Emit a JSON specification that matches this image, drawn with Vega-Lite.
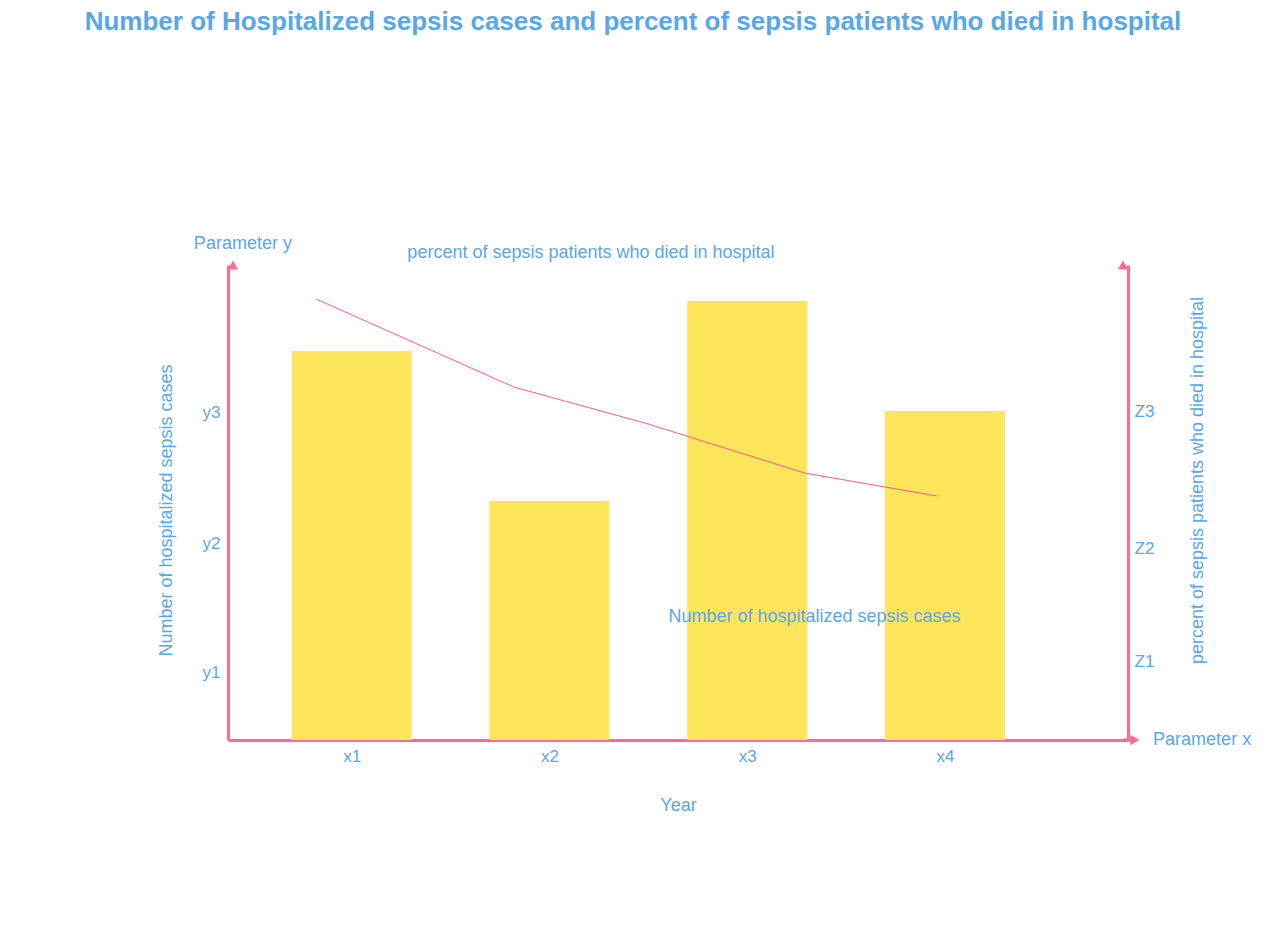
{
  "$schema": "https://vega.github.io/schema/vega-lite/v6.json",
  "autosize": "none",
  "width": 900,
  "height": 475,
  "padding": {"left": 228, "top": 265, "right": 137, "bottom": 206},
  "config": {
    "font": "Liberation Sans",
    "view": {"stroke": null},
    "axis": {"grid": false, "ticks": false, "labelColor": "#5AA7E6", "titleColor": "#5AA7E6", "labelFontSize": 17, "titleFontSize": 18, "titleFontWeight": "normal", "domainColor": "#FF6B93", "domainWidth": 3}
  },
  "title": {"text": "Number of Hospitalized sepsis cases and percent of sepsis patients who died in hospital", "color": "#5AA7E6", "fontSize": 26, "fontWeight": "bold", "anchor": "middle", "offset": 200, "dx": -45},
  "datasets": {
    "bars": [
      {"year": 1, "cases": 389},
      {"year": 2, "cases": 239},
      {"year": 3, "cases": 439},
      {"year": 4, "cases": 329}
    ],
    "line": [
      {"year": 0.82, "pct": 441},
      {"year": 1.82, "pct": 353},
      {"year": 2.5, "pct": 316},
      {"year": 3.29, "pct": 267},
      {"year": 3.96, "pct": 244}
    ],
    "notes": [
      {"year": 0.45, "v": 496, "label": "Parameter y"},
      {"year": 2.21, "v": 487, "label": "percent of sepsis patients who died in hospital"},
      {"year": 3.34, "v": 123, "label": "Number of  hospitalized sepsis cases"},
      {"year": 5.3, "v": 0, "label": "Parameter x"}
    ]
  },
  "layer": [
    {
      "data": {"name": "bars"},
      "mark": {"type": "bar", "size": 120, "color": "#FFE55C"},
      "encoding": {
        "x": {"field": "year", "type": "quantitative", "scale": {"domain": [0.4, 4.9], "nice": false, "zero": false},
          "axis": {"values": [1, 2, 3, 4], "labelExpr": "'x' + datum.value", "title": "Year", "titleY": 56, "labelPadding": 8}},
        "y": {"field": "cases", "type": "quantitative", "scale": {"domain": [0, 475], "nice": false},
          "axis": {"values": [68, 197, 328], "labelExpr": "datum.value == 68 ? 'y1' : datum.value == 197 ? 'y2' : 'y3'", "labelPadding": 8, "title": "Number of  hospitalized sepsis cases", "titleX": -53, "titleY": 245}}
      }
    },
    {
      "data": {"name": "line"},
      "mark": {"type": "line", "color": "#FF5C8A", "strokeWidth": 1},
      "encoding": {
        "x": {"field": "year", "type": "quantitative"},
        "y": {"field": "pct", "type": "quantitative", "scale": {"domain": [0, 475], "nice": false},
          "axis": {"orient": "right", "values": [79, 192, 329], "labelExpr": "datum.value == 79 ? 'Z1' : datum.value == 192 ? 'Z2' : 'Z3'", "labelPadding": 6, "title": "percent of sepsis patients who died in hospital", "titleAngle": 270, "titleBaseline": "bottom", "titleX": 78, "titleY": 215}}
      }
    },
    {
      "data": {"values": [{"year": 0.4, "v": 475}]},
      "mark": {"type": "point", "shape": "triangle-up", "filled": true, "color": "#FF6B93", "size": 110, "opacity": 1},
      "encoding": {"x": {"field": "year", "type": "quantitative"}, "y": {"field": "v", "type": "quantitative", "scale": {"domain": [0, 475], "nice": false}, "axis": null}}
    },
    {
      "data": {"values": [{"year": 4.9, "v": 475}]},
      "mark": {"type": "point", "shape": "triangle-up", "filled": true, "color": "#FF6B93", "size": 110, "opacity": 1},
      "encoding": {"x": {"field": "year", "type": "quantitative"}, "y": {"field": "v", "type": "quantitative", "scale": {"domain": [0, 475], "nice": false}, "axis": null}}
    },
    {
      "data": {"values": [{"year": 4.9, "end": 4.96, "v": 0}]},
      "mark": {"type": "rule", "color": "#FF6B93", "strokeWidth": 3},
      "encoding": {"x": {"field": "year", "type": "quantitative"}, "x2": {"field": "end"}, "y": {"field": "v", "type": "quantitative", "scale": {"domain": [0, 475], "nice": false}, "axis": null}}
    },
    {
      "data": {"values": [{"year": 4.96, "v": 0}]},
      "mark": {"type": "point", "shape": "triangle-right", "filled": true, "color": "#FF6B93", "size": 110, "opacity": 1},
      "encoding": {"x": {"field": "year", "type": "quantitative"}, "y": {"field": "v", "type": "quantitative", "scale": {"domain": [0, 475], "nice": false}, "axis": null}}
    },
    {
      "data": {"name": "notes"},
      "mark": {"type": "text", "color": "#5AA7E6", "fontSize": 18, "align": "center"},
      "encoding": {
        "x": {"field": "year", "type": "quantitative"},
        "y": {"field": "v", "type": "quantitative", "scale": {"domain": [0, 475], "nice": false}, "axis": null},
        "text": {"field": "label"}
      }
    }
  ],
  "resolve": {"scale": {"y": "independent"}}
}
